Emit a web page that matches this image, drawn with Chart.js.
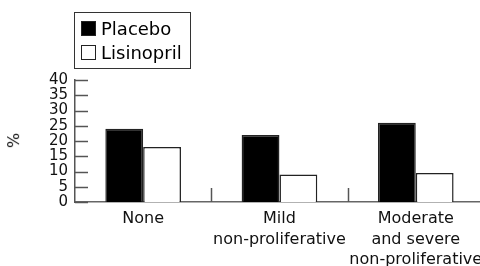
<!DOCTYPE html>
<html><head><meta charset="utf-8">
<script src="https://cdn.jsdelivr.net/npm/chart.js@4/dist/chart.umd.min.js"></script>
<style>
html,body{margin:0;padding:0;background:#fff;overflow:hidden;width:480px;height:266px;}
#wrap{position:relative;width:490px;height:266px;}
#c{position:absolute;left:0;top:0;}
#legend{position:absolute;left:74px;top:12px;width:115px;height:55px;border:1.5px solid #333;font-family:"DejaVu Sans",sans-serif;font-size:18px;color:#000;}
.li{position:absolute;left:6px;height:22px;line-height:22px;white-space:nowrap;}
.sw{display:inline-block;width:13px;height:13px;border:1px solid #222;vertical-align:middle;margin-right:5px;position:relative;top:-2px;}
#ylab{position:absolute;left:6px;top:131px;font-family:"DejaVu Sans",sans-serif;font-size:16px;color:#111;transform:rotate(-90deg);transform-origin:center;}
</style></head>
<body>
<div id="wrap">
<canvas id="c" width="490" height="266"></canvas>
<div id="legend"></div>
<div id="ylab">%</div>
</div>
<script>
const categories = [['None'], ['Mild','non-proliferative'], ['Moderate','and severe','non-proliferative']];
const seriesNames = ['Placebo', 'Lisinopril'];
const placebo = [24, 22, 26];
const lisinopril = [18, 9, 9.5];
const yTicks = [0, 5, 10, 15, 20, 25, 30, 35, 40];

const fills = ['#000000', '#ffffff'];

// HTML legend built from series names
const leg = document.getElementById('legend');
seriesNames.forEach((n, i) => {
  const d = document.createElement('div');
  d.className = 'li';
  d.style.top = (i === 0 ? 5 : 29) + 'px';
  d.innerHTML = '<span class="sw" style="background:' + fills[i] + '"></span>' + n;
  leg.appendChild(d);
});

const tickPlugin = {
  id: 'innerTicks',
  afterDatasetsDraw(chart) {
    const ctx = chart.ctx, ca = chart.chartArea;
    const y = chart.scales.y, x = chart.scales.x;
    ctx.save();
    ctx.strokeStyle = '#555';
    ctx.lineWidth = 1.5;
    yTicks.forEach(v => {
      const py = Math.round(y.getPixelForValue(v)) + 0.5;
      ctx.beginPath();
      ctx.moveTo(ca.left, py);
      ctx.lineTo(ca.left + 13, py);
      ctx.stroke();
    });
    for (let i = 1; i < categories.length; i++) {
      const px = Math.round((x.getPixelForValue(i - 1) + x.getPixelForValue(i)) / 2) + 0.5;
      ctx.beginPath();
      ctx.moveTo(px, ca.bottom);
      ctx.lineTo(px, ca.bottom - 14);
      ctx.stroke();
    }
    ctx.restore();
  }
};

new Chart(document.getElementById('c'), {
  type: 'bar',
  data: {
    labels: categories,
    datasets: [
      { label: seriesNames[0], data: placebo, backgroundColor: fills[0], borderColor: '#222', borderWidth: 1.5 },
      { label: seriesNames[1], data: lisinopril, backgroundColor: fills[1], borderColor: '#222', borderWidth: 1.5 }
    ]
  },
  options: {
    responsive: false,
    animation: false,
    events: [],
    layout: { padding: { top: 80, right: 5, left: 0, bottom: 0 } },
    plugins: { legend: { display: false }, tooltip: { enabled: false } },
    datasets: { bar: { categoryPercentage: 0.555, barPercentage: 1.0 } },
    scales: {
      x: {
        grid: { display: false, drawTicks: false },
        border: { display: true, color: '#666', width: 1.5 },
        ticks: { color: '#111', padding: 7, maxRotation: 0, autoSkip: false,
                 font: { family: 'DejaVu Sans', size: 16, lineHeight: 1.28 } },
        afterFit(s) { s.height = 64; }
      },
      y: {
        min: 0, max: 40,
        grid: { display: false, drawTicks: false },
        border: { display: true, color: '#555', width: 1.5 },
        afterBuildTicks(s) { s.ticks = yTicks.map(v => ({ value: v })); },
        ticks: { color: '#111', padding: 7, autoSkip: false,
                 font: { family: 'DejaVu Sans', size: 15, lineHeight: 1 } },
        afterFit(s) { s.width = 75; }
      }
    }
  },
  plugins: [tickPlugin]
});
</script>
</body></html>
